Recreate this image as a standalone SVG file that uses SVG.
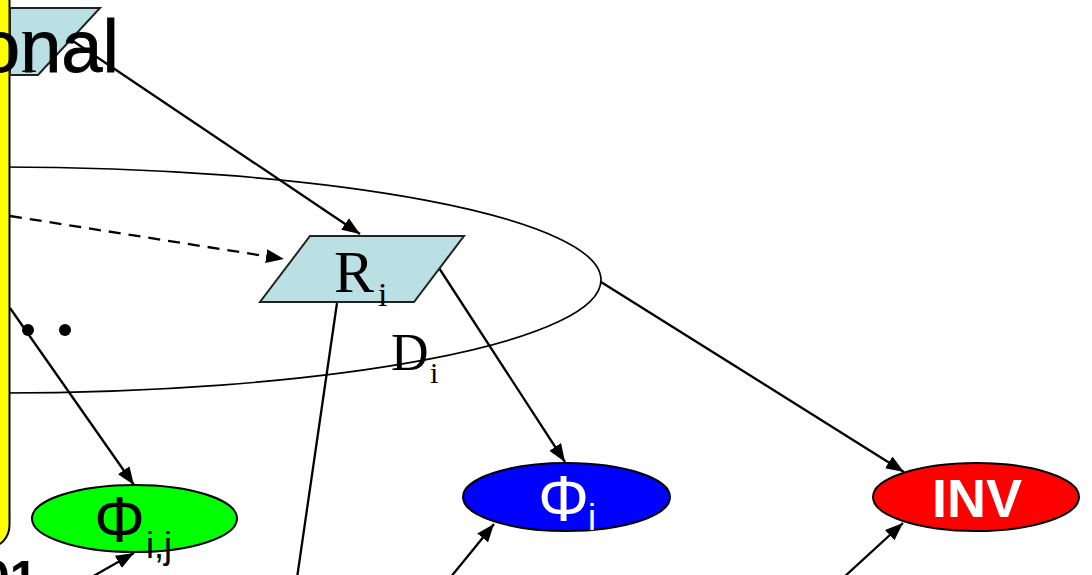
<svg xmlns="http://www.w3.org/2000/svg" width="1092" height="575" viewBox="0 0 1092 575">
<style>
.ln{stroke:#000;stroke-width:2.3;fill:none}
.para{fill:#BBE0E3;stroke:#222;stroke-width:2}
.ell{stroke:#000;stroke-width:2}
.serif{font-family:"Liberation Serif",serif;fill:#000}
.sans{font-family:"Liberation Sans",Arial,sans-serif}
</style>
<defs>
<marker id="ah" viewBox="0 0 18 14" refX="18" refY="7" markerWidth="18" markerHeight="14" markerUnits="userSpaceOnUse" orient="auto">
<path d="M0,0 L18,7 L0,14 Z" fill="#000"/>
</marker>
</defs>
<rect width="1092" height="575" fill="#fff"/>
<g id="domain">
<ellipse cx="0" cy="280" rx="601" ry="113" fill="none" stroke="#000" stroke-width="1.7"/>
<text class="serif" x="391" y="370" font-size="52">D</text>
<text class="serif" x="430" y="383" font-size="30">i</text>
</g>
<g id="sidebar">
<rect x="-30" y="-30" width="39.5" height="577" rx="22" fill="#FFFF00" stroke="#000" stroke-width="2"/>
</g>
<g id="topnode">
<polygon class="para" points="10,8 100,8 38,75 10,75"/>
<text class="serif" x="21" y="72" font-size="58">l</text>
<text class="sans" x="-21" y="72" font-size="74" fill="#000" stroke="#000" stroke-width="0.8">onal</text>
</g>
<g id="connectors">
<line class="ln" x1="70" y1="39" x2="360" y2="234" marker-end="url(#ah)"/>
<line class="ln" x1="10" y1="216" x2="284" y2="259" stroke-dasharray="12,8" marker-end="url(#ah)"/>
<line class="ln" x1="10" y1="308" x2="134" y2="485" marker-end="url(#ah)"/>
<line class="ln" x1="337" y1="303" x2="297" y2="578"/>
<line class="ln" x1="439" y1="268" x2="565" y2="462" marker-end="url(#ah)"/>
<line class="ln" x1="601" y1="282" x2="904" y2="472" marker-end="url(#ah)"/>
<line class="ln" x1="90" y1="578" x2="134" y2="553" marker-end="url(#ah)"/>
<line class="ln" x1="450" y1="578" x2="494" y2="524" marker-end="url(#ah)"/>
<line class="ln" x1="843" y1="578" x2="903" y2="523" marker-end="url(#ah)"/>
</g>
<g id="dots">
<circle cx="28" cy="330" r="6" fill="#000"/>
<circle cx="65" cy="330" r="6" fill="#000"/>
</g>
<g id="Ri">
<polygon class="para" points="310,236 464,236 414,302 260,302"/>
<text class="serif" x="334" y="292" font-size="60">R</text>
<text class="serif" x="378" y="306" font-size="34">i</text>
</g>
<g id="phi_ij">
<ellipse class="ell" cx="134.5" cy="518.5" rx="102.5" ry="33.5" fill="#00FF00"/>
<text class="sans" x="94" y="542" font-size="64" fill="#000">Φ</text>
<text class="sans" x="146" y="558" font-size="36" fill="#000">i,j</text>
</g>
<g id="phi_i">
<ellipse class="ell" cx="566.5" cy="497" rx="103.5" ry="34" fill="#0000FF"/>
<text class="sans" x="538" y="521" font-size="64" fill="#fff">Φ</text>
<text class="sans" x="588" y="530" font-size="36" fill="#fff">i</text>
</g>
<g id="inv">
<ellipse class="ell" cx="976" cy="497" rx="103" ry="34" fill="#FF0000"/>
<text class="sans" x="977" y="517" font-size="54" font-weight="bold" fill="#fff" text-anchor="middle">INV</text>
</g>
<g id="bottomtext">
<text class="sans" x="-18" y="596" font-size="50" font-weight="bold" fill="#000">01</text>
</g>
</svg>
